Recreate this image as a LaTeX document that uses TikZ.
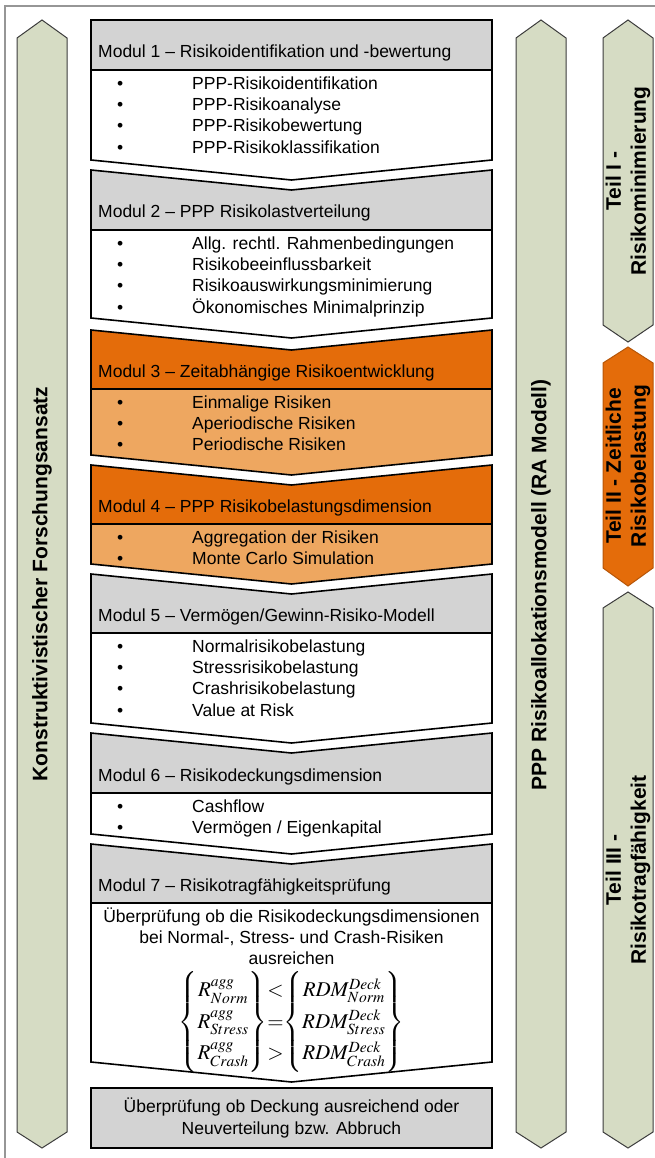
\documentclass[tikz,border=0pt]{standalone}
\usepackage{mathptmx}
\usepackage[no-math]{fontspec}
\setmainfont{Liberation Sans}
\usetikzlibrary{positioning}

\definecolor{headgray}{RGB}{211,211,211}
\definecolor{sage}{RGB}{214,220,196}
\definecolor{darkorange}{RGB}{228,108,10}
\definecolor{lightorange}{RGB}{238,167,96}
\definecolor{framegray}{RGB}{150,150,150}
\definecolor{bandline}{RGB}{60,60,60}

\begin{document}
\begin{tikzpicture}[
    x=1pt, y=-1pt,
    font=\fontsize{17.5}{21.3}\selectfont,
    modhead/.style={
        draw=black,
        line width=1.6pt,
        fill=headgray
    },
    modbody/.style={
        draw=black,
        line width=1.6pt,
        fill=white
    },
    hothead/.style={modhead, fill=darkorange},
    hotbody/.style={modbody, fill=lightorange},
    band/.style={draw=bandline, line width=1pt, fill=sage},
    headtext/.style={anchor=base west, inner sep=0pt},
    itemlist/.style={anchor=north west, inner sep=0pt},
    vlabel/.style={
        rotate=90,
        align=center,
        font=\fontsize{21}{25}\selectfont\bfseries
    }
]
\useasboundingbox (0,0) rectangle (655,1158);

% Frame
\draw[framegray, line width=1.2pt] (5,1160) -- (5,6) -- (660,6);

% Side bands
\draw[band] (17,38) -- (42,20) -- (67,38) -- (67,1132) -- (42,1148) -- (17,1132) -- cycle;
\draw[band] (516,38) -- (541,20) -- (566,38) -- (566,1132) -- (541,1148) -- (516,1132) -- cycle;
\draw[band] (603,38) -- (628,20) -- (653,38) -- (653,325) -- (628,342) -- (603,325) -- cycle;
\draw[band, fill=darkorange, draw=darkorange!80!black] (603,363) -- (628,347) -- (653,363) -- (653,568) -- (628,586) -- (603,568) -- cycle;
\draw[band] (603,608) -- (628,592) -- (653,608) -- (653,1132) -- (628,1148) -- (603,1132) -- cycle;

\node[vlabel] (approach) at (42,584) {Konstruktivistischer Forschungsansatz};
\node[vlabel] (model) at (541,585) {PPP Risikoallokationsmodell (RA Modell)};
\node[vlabel] (teil1) at (628,181) {Teil I -\\Risikominimierung};
\node[vlabel] (teil2) at (628,466) {Teil II - Zeitliche\\Risikobelastung};
\node[vlabel] (teil3) at (628,870) {Teil III -\\Risikotragfähigkeit};

% Modul 1
\draw[modhead] (91,20) -- (492,20) -- (492,70) -- (91,70) -- cycle;
\draw[modbody] (91,70) -- (492,70) -- (492,160) -- (291.5,180) -- (91,160) -- cycle;
\node[headtext] (m1head) at (98,58) {Modul 1 – Risikoidentifikation und -bewertung};
\node[itemlist] (m1list) at (117,74) {\begin{tabular}{@{}p{75pt}@{}l@{}}
\textbullet & PPP-Risikoidentifikation\\
\textbullet & PPP-Risikoanalyse\\
\textbullet & PPP-Risikobewertung\\
\textbullet & PPP-Risikoklassifikation
\end{tabular}};

% Modul 2
\draw[modhead] (91,170) -- (291.5,190) -- (492,170) -- (492,230) -- (91,230) -- cycle;
\draw[modbody] (91,230) -- (492,230) -- (492,318) -- (291.5,338) -- (91,318) -- cycle;
\node[headtext] (m2head) at (98,218) {Modul 2 – PPP Risikolastverteilung};
\node[itemlist] (m2list) at (117,234) {\begin{tabular}{@{}p{75pt}@{}l@{}}
\textbullet & Allg. rechtl. Rahmenbedingungen\\
\textbullet & Risikobeeinflussbarkeit\\
\textbullet & Risikoauswirkungsminimierung\\
\textbullet & Ökonomisches Minimalprinzip
\end{tabular}};

% Modul 3
\draw[hothead] (91,330) -- (291.5,350) -- (492,330) -- (492,389) -- (91,389) -- cycle;
\draw[hotbody] (91,389) -- (492,389) -- (492,455) -- (291.5,475) -- (91,455) -- cycle;
\node[headtext] (m3head) at (98,377) {Modul 3 – Zeitabhängige Risikoentwicklung};
\node[itemlist] (m3list) at (117,393) {\begin{tabular}{@{}p{75pt}@{}l@{}}
\textbullet & Einmalige Risiken\\
\textbullet & Aperiodische Risiken\\
\textbullet & Periodische Risiken
\end{tabular}};

% Modul 4
\draw[hothead] (91,465) -- (291.5,485) -- (492,465) -- (492,524) -- (91,524) -- cycle;
\draw[hotbody] (91,524) -- (492,524) -- (492,564) -- (291.5,584) -- (91,564) -- cycle;
\node[headtext] (m4head) at (98,512) {Modul 4 – PPP Risikobelastungsdimension};
\node[itemlist] (m4list) at (117,528) {\begin{tabular}{@{}p{75pt}@{}l@{}}
\textbullet & Aggregation der Risiken\\
\textbullet & Monte Carlo Simulation
\end{tabular}};

% Modul 5
\draw[modhead] (91,574) -- (291.5,594) -- (492,574) -- (492,633) -- (91,633) -- cycle;
\draw[modbody] (91,633) -- (492,633) -- (492,723) -- (291.5,743) -- (91,723) -- cycle;
\node[headtext] (m5head) at (98,621) {Modul 5 – Vermögen/Gewinn-Risiko-Modell};
\node[itemlist] (m5list) at (117,637) {\begin{tabular}{@{}p{75pt}@{}l@{}}
\textbullet & Normalrisikobelastung\\
\textbullet & Stressrisikobelastung\\
\textbullet & Crashrisikobelastung\\
\textbullet & Value at Risk
\end{tabular}};

% Modul 6
\draw[modhead] (91,733) -- (291.5,753) -- (492,733) -- (492,793) -- (91,793) -- cycle;
\draw[modbody] (91,793) -- (492,793) -- (492,834) -- (291.5,854) -- (91,834) -- cycle;
\node[headtext] (m6head) at (98,781) {Modul 6 – Risikodeckungsdimension};
\node[itemlist] (m6list) at (117,797) {\begin{tabular}{@{}p{75pt}@{}l@{}}
\textbullet & Cashflow\\
\textbullet & Vermögen / Eigenkapital
\end{tabular}};

% Modul 7
\draw[modhead] (91,844) -- (291.5,864) -- (492,844) -- (492,903) -- (91,903) -- cycle;
\draw[modbody] (91,903) -- (492,903) -- (492,1062) -- (291.5,1082) -- (91,1062) -- cycle;
\node[headtext] (m7head) at (98,891) {Modul 7 – Risikotragfähigkeitsprüfung};
\node[anchor=north, inner sep=0pt] (m7text) at (291.5,907) {\begin{tabular}{@{}c@{}}
Überprüfung ob die Risikodeckungsdimensionen\\
bei Normal-, Stress- und Crash-Risiken\\
ausreichen
\end{tabular}};
\node[inner sep=0pt, font=\fontsize{21}{25}\selectfont] (m7eqn) at (291.5,1022)
  {\renewcommand\arraystretch{1.26}%
  $\left\{\begin{array}{@{}c@{}}R^{agg}_{Norm}\\ R^{agg}_{Stress}\\ R^{agg}_{Crash}\end{array}\right\}
  \!\begin{array}{@{}c@{}}<\\ =\\ >\end{array}\!
  \left\{\begin{array}{@{}c@{}}RDM^{Deck}_{Norm}\\ RDM^{Deck}_{Stress}\\ RDM^{Deck}_{Crash}\end{array}\right\}$};

% Abschluss
\node[draw=black, line width=1.6pt, fill=headgray, minimum width=401pt, minimum height=60pt,
      align=center, inner sep=0pt] (check) at (291.5,1118)
  {Überprüfung ob Deckung ausreichend oder\\Neuverteilung bzw. Abbruch};

\end{tikzpicture}
\end{document}
